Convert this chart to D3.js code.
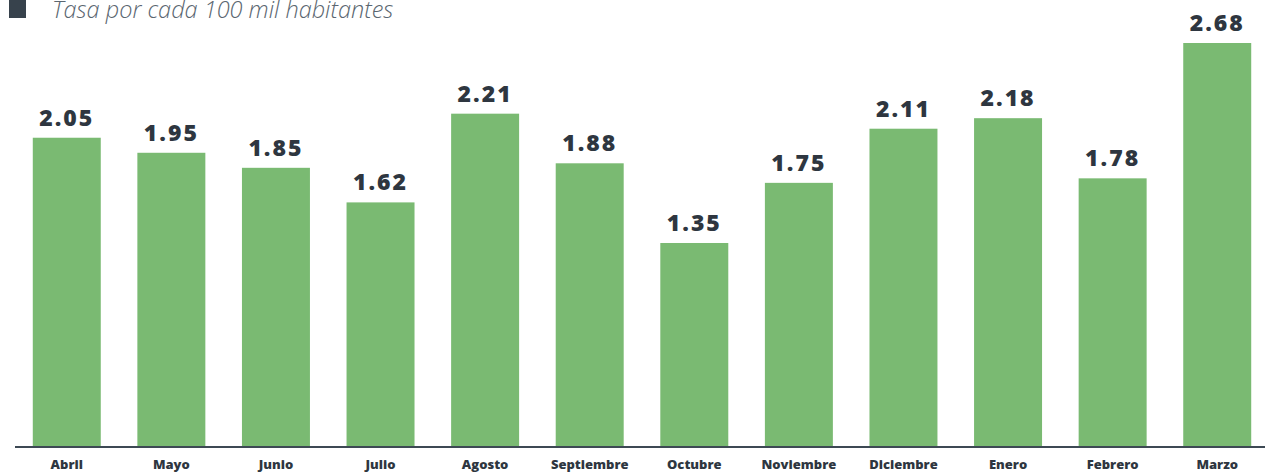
<!DOCTYPE html>
<html><head><meta charset="utf-8">
<script src="https://cdn.jsdelivr.net/npm/d3@7"></script>
<style>body{margin:0;background:#fff;}svg{display:block;}</style>
</head><body>
<svg id="chart" width="1265" height="472"></svg>
<script>
const categories = ["Abril","Mayo","Junio","Julio","Agosto","Septiembre","Octubre","Noviembre","Diciembre","Enero","Febrero","Marzo"];
const values = [2.05,1.95,1.85,1.62,2.21,1.88,1.35,1.75,2.11,2.18,1.78,2.68];
const legendLabel = "Tasa por cada 100 mil habitantes";

const svg = d3.select("#chart");
const baseline = 446;
const x = d3.scaleBand().domain(categories).range([15, 1269]).paddingInner(0.35).paddingOuter(0.17);
const y = d3.scaleLinear().domain([0, 2.68]).range([baseline, 43]);

svg.selectAll("rect.bar").data(values).join("rect")
  .attr("class","bar")
  .attr("x",(d,i)=>x(categories[i]))
  .attr("width",x.bandwidth())
  .attr("y",d=>y(d))
  .attr("height",d=>baseline-y(d))
  .attr("fill","#7aba72");

svg.selectAll("text.val").data(values).join("text")
  .attr("class","val")
  .attr("x",(d,i)=>x(categories[i])+x.bandwidth()/2)
  .attr("y",d=>y(d)-12)
  .attr("text-anchor","middle")
  .attr("font-family","'Open Sans', sans-serif")
  .attr("font-weight",800)
  .attr("font-size",23)
  .attr("letter-spacing",2)
  .attr("fill","#2e3640")
  .text(d=>d.toFixed(2));

const axis = d3.axisBottom(x).tickSize(0).tickPadding(14);
const g = svg.append("g").attr("transform",`translate(0,${baseline})`).call(axis);
g.select(".domain").remove();
g.selectAll("text").attr("font-family","'Open Sans', sans-serif").attr("font-weight",800).attr("font-size",13).attr("fill","#2e3640");
svg.append("line").attr("x1",15).attr("x2",1265).attr("y1",baseline+1).attr("y2",baseline+1).attr("stroke","#3d4954").attr("stroke-width",2);

svg.append("rect").attr("x",9).attr("y",0).attr("width",17).attr("height",18).attr("fill","#37424c");
svg.append("text").attr("x",52).attr("y",18).attr("font-family","'Open Sans', sans-serif").attr("font-style","italic").attr("font-weight",300).attr("font-size",23.5).attr("fill","#5a6670").text(legendLabel);
</script>
</body></html>
